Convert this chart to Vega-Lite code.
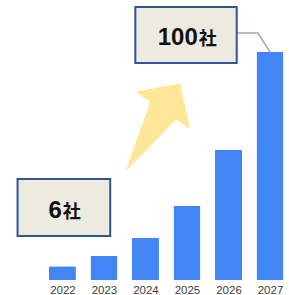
{
  "$schema": "https://vega.github.io/schema/vega-lite/v6.json",
  "autosize": {"type": "none"},
  "padding": {"left": 0, "top": 0, "right": 0, "bottom": 15},
  "width": 289,
  "height": 280,
  "background": "white",
  "config": {"view": {"stroke": null}},
  "datasets": {
    "bars": [
      {"year": 2022, "companies": 6},
      {"year": 2023, "companies": 10.5},
      {"year": 2024, "companies": 18.5},
      {"year": 2025, "companies": 32.5},
      {"year": 2026, "companies": 57},
      {"year": 2027, "companies": 100}
    ],
    "arrow": [
      {"i": 0, "x": 2023.547, "y": 48.25},
      {"i": 1, "x": 2024.128, "y": 78.07},
      {"i": 2, "x": 2023.802, "y": 82.46},
      {"i": 3, "x": 2024.826, "y": 85.96},
      {"i": 4, "x": 2025.058, "y": 66.67},
      {"i": 5, "x": 2024.733, "y": 70.61},
      {"i": 6, "x": 2023.547, "y": 48.25}
    ],
    "boxes": [
      {"x": 2020.919, "x2": 2023.151, "y": 44.3, "y2": 19.3},
      {"x": 2023.756, "x2": 2026.198, "y": 119.74, "y2": 95.18}
    ],
    "labels": [
      {"x": 2021.984, "y": 27.41, "num": "6", "unit": "社"},
      {"x": 2025.26, "y": 102.94, "num": "100", "unit": "社"}
    ],
    "connector": [
      {"i": 0, "x": 2026.198, "y": 108.33},
      {"i": 1, "x": 2026.709, "y": 108.33},
      {"i": 2, "x": 2027.0, "y": 100}
    ]
  },
  "layer": [
    {
      "data": {"name": "bars"},
      "mark": {"type": "bar", "size": 27, "color": "#4285F4", "cornerRadiusTopLeft": 1, "cornerRadiusTopRight": 1},
      "encoding": {
        "x": {
          "field": "year", "type": "quantitative",
          "scale": {"domain": [2020.6163, 2027.3372], "nice": false, "zero": false},
          "axis": {
            "values": [2022, 2023, 2024, 2025, 2026, 2027],
            "format": "d", "title": null, "domain": false, "ticks": false, "grid": false,
            "labelPadding": 13.5, "labelBaseline": "alphabetic", "labelFontSize": 11.5, "labelFont": "Liberation Sans",
            "labelColor": "#404040", "labelFlush": false
          }
        },
        "y": {
          "field": "companies", "type": "quantitative",
          "scale": {"domain": [0, 122.8], "nice": false, "zero": true},
          "axis": null
        }
      }
    },
    {
      "data": {"name": "arrow"},
      "mark": {"type": "line", "fill": "#FFE699", "stroke": "#FFE699", "strokeWidth": 1, "interpolate": "linear"},
      "encoding": {
        "x": {"field": "x", "type": "quantitative"},
        "y": {"field": "y", "type": "quantitative"},
        "order": {"field": "i", "type": "quantitative"}
      }
    },
    {
      "data": {"name": "connector"},
      "mark": {"type": "line", "stroke": "#A6A6A6", "strokeWidth": 1.5},
      "encoding": {
        "x": {"field": "x", "type": "quantitative"},
        "y": {"field": "y", "type": "quantitative"},
        "order": {"field": "i", "type": "quantitative"}
      }
    },
    {
      "data": {"name": "boxes"},
      "mark": {"type": "rect", "fill": "#EDEBE0", "stroke": "#2F5597", "strokeWidth": 2},
      "encoding": {
        "x": {"field": "x", "type": "quantitative"},
        "x2": {"field": "x2"},
        "y": {"field": "y", "type": "quantitative"},
        "y2": {"field": "y2"}
      }
    },
    {
      "data": {"name": "labels"},
      "mark": {"type": "text", "align": "right", "baseline": "alphabetic", "fontSize": 24, "fontWeight": "bold", "font": "Liberation Sans", "color": "#111111"},
      "encoding": {
        "x": {"field": "x", "type": "quantitative"},
        "y": {"field": "y", "type": "quantitative"},
        "text": {"field": "num"}
      }
    },
    {
      "data": {"name": "labels"},
      "mark": {"type": "text", "align": "left", "baseline": "alphabetic", "fontSize": 18, "fontWeight": "bold", "font": "Noto Sans CJK JP", "color": "#111111", "dx": 1},
      "encoding": {
        "x": {"field": "x", "type": "quantitative"},
        "y": {"field": "y", "type": "quantitative"},
        "text": {"field": "unit"}
      }
    }
  ]
}
